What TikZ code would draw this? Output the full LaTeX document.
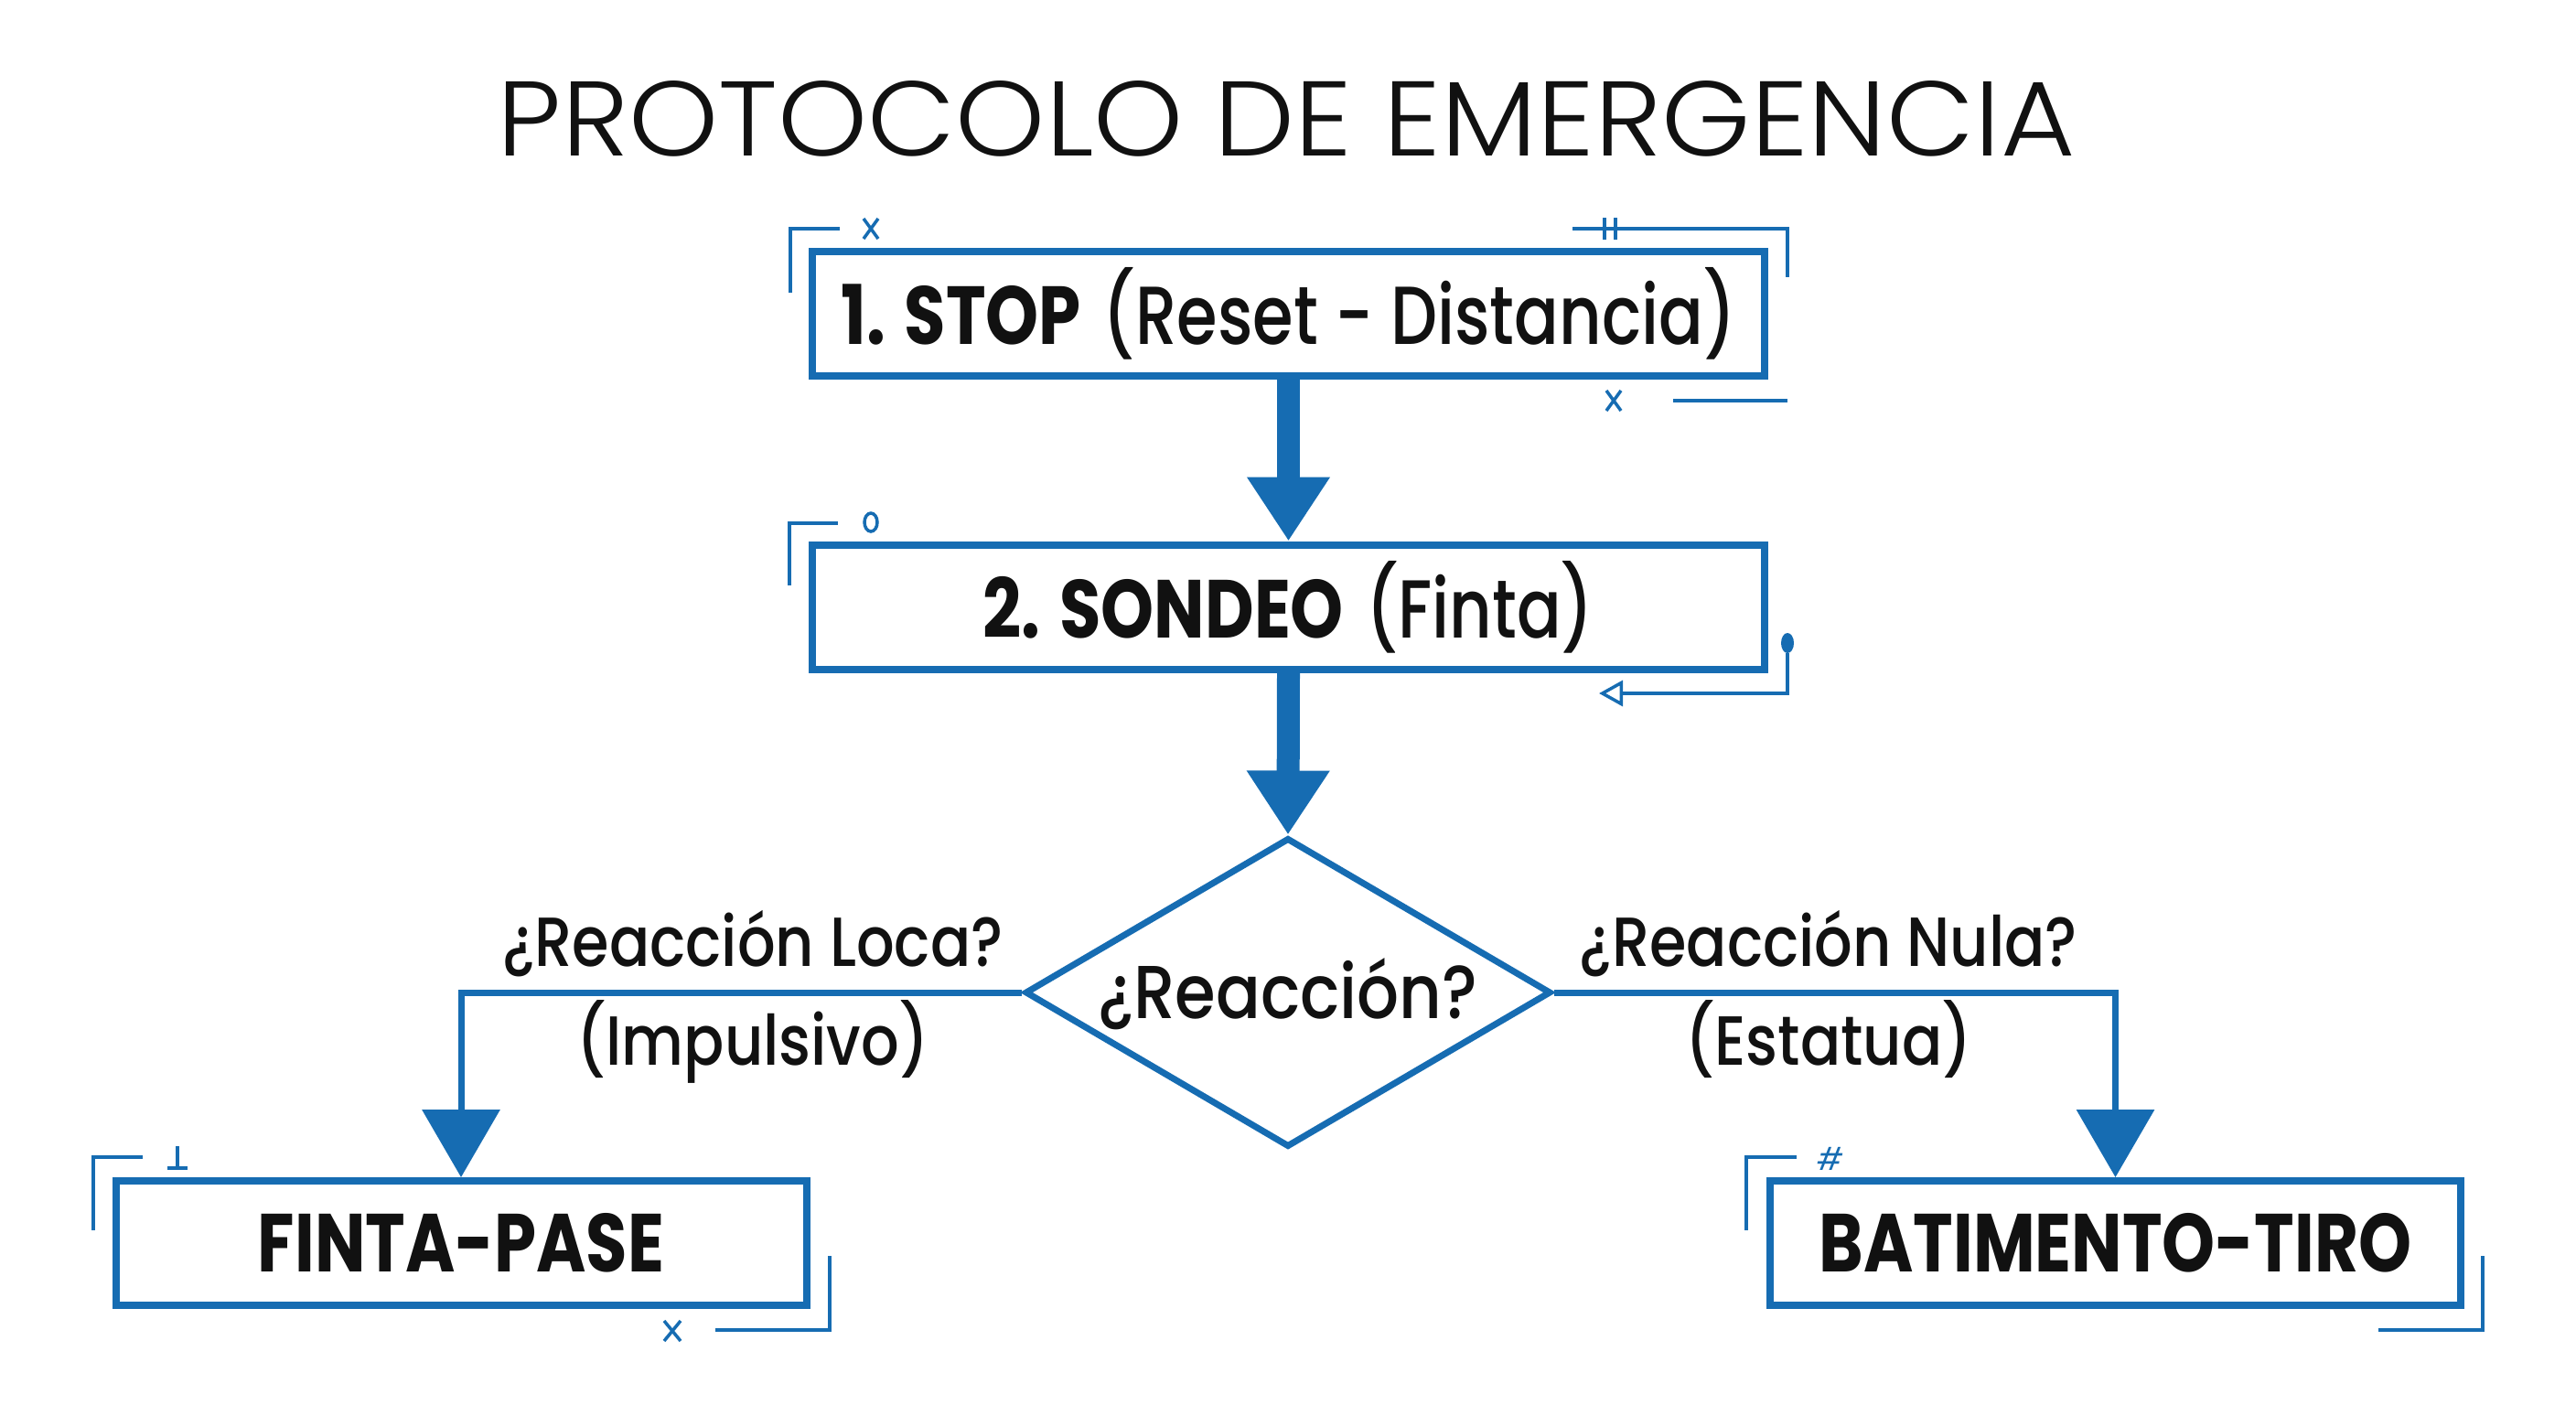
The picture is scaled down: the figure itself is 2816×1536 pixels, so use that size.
\documentclass[tikz,border=0pt]{standalone}
\usepackage{fontspec}
\setmainfont{Poppins}
\newfontfamily\titlefont{Poppins Light}[FakeStretch=1.075]
\newfontfamily\boldfont{Poppins Bold}[FakeStretch=0.82]
\newfontfamily\medfont{Poppins Medium}[FakeStretch=0.80]
\newfontfamily\lblfont{Poppins Medium}[FakeStretch=0.86]
\newfontfamily\dfont{Poppins Medium}[FakeStretch=0.88]
\usetikzlibrary{arrows.meta,shapes.geometric}
\definecolor{fblue}{RGB}{22,108,178}
\definecolor{ink}{RGB}{17,17,17}
\newcommand\bxsz{\fontsize{90}{96}\selectfont}
\begin{document}
\begin{tikzpicture}[x=1pt,y=-1pt,
  box/.style={draw=fblue,line width=8pt,fill=white,minimum width=1041pt,minimum height=136pt,inner sep=0pt,text=ink,font=\bxsz},
  sbox/.style={box,minimum width=755pt},
  bigarrow/.style={draw=fblue,line width=25pt,-{Triangle[width=86pt,length=70pt]}},
  elbow/.style={draw=fblue,line width=7pt,-{Triangle[width=84pt,length=74pt]}},
  deco/.style={draw=fblue,line width=3.5pt},
  lbl/.style={text=ink,inner sep=0pt,anchor=base,font=\lblfont\fontsize{76}{80}\selectfont},
  dtext/.style={text=ink,inner sep=0pt,anchor=base,font=\dfont\fontsize{82}{86}\selectfont}]
\path[use as bounding box,fill=white] (0,0) rectangle (2816,1536);

% title
\node[text=ink,inner sep=0pt,anchor=base,font=\titlefont\fontsize{116}{120}\selectfont] (title) at (1406,171) {PROTOCOLO DE EMERGENCIA};

% boxes
\node[box] (b1) at (1408.5,343) {{\boldfont 1. STOP} {\medfont (Reset - Distancia)}};
\node[box] (b2) at (1408.5,663.5) {{\boldfont 2. SONDEO} {\medfont (Finta)}};
\node[diamond,draw=fblue,line width=7pt,fill=white,minimum width=575pt,minimum height=338pt,inner sep=0pt] (dec) at (1408,1085) {};
\node[dtext] (dectext) at (1408,1113) {¿Reacción?};
\node[sbox] (b3) at (504,1359) {\boldfont FINTA-PASE};
\node[sbox] (b4) at (2312.5,1359) {\boldfont BATIMENTO-TIRO};

% connectors
\draw[bigarrow] (b1.south) -- (b2.north);
\draw[bigarrow] (b2.south) -- (dec.north);
\draw[elbow] (dec.west) -| (b3.north);
\draw[elbow] (dec.east) -| (b4.north);

% labels
\node[lbl] (q1) at (823,1056) {¿Reacción Loca?};
\node[lbl] (q1b) at (823,1164) {(Impulsivo)};
\node[lbl] (q2) at (1999,1056) {¿Reacción Nula?};
\node[lbl] (q2b) at (1999,1164) {(Estatua)};

% decorations box 1
\draw[deco] (864,320) -- (864,250) -- (918,250);
\draw[deco] (944,239) -- (960,261) (944,261) -- (960,239);
\draw[deco] (1719,250) -- (1954,250) -- (1954,303);
\draw[deco] (1754,238) -- (1754,262) (1766,238) -- (1766,262);
\draw[deco] (1756,427) -- (1772,449) (1756,449) -- (1772,427);
\draw[deco] (1829,438) -- (1954,438);

% decorations box 2
\draw[deco] (863,640) -- (863,572) -- (916,572);
\draw[deco] (952,571) ellipse [x radius=7pt,y radius=10pt];
\fill[fblue] (1954,703) ellipse [x radius=7pt,y radius=11pt];
\draw[deco,-{Triangle[open,width=28pt,length=26pt,fill=white]}] (1954,714) -- (1954,758) -- (1748,758);

% decorations box 3
\draw[deco] (102,1345) -- (102,1265) -- (156,1265);
\draw[deco] (194,1253) -- (194,1277) (183,1277) -- (205,1277);
\draw[deco] (907,1373) -- (907,1454) -- (782,1454);
\draw[deco] (726,1444) -- (744,1466) (726,1466) -- (744,1444);

% decorations box 4
\draw[deco] (1909,1345) -- (1909,1265) -- (1964,1265);
\node[text=fblue,inner sep=0pt,font=\fontsize{34}{36}\selectfont\itshape] (hash) at (2001,1267) {\#};
\draw[deco] (2714,1373) -- (2714,1454) -- (2600,1454);
\end{tikzpicture}
\end{document}
